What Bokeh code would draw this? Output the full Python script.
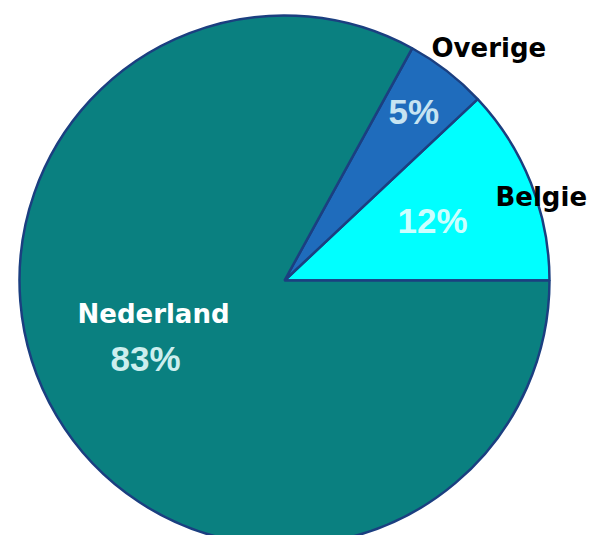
import math
from bokeh.plotting import figure
from bokeh.models import Range1d, ColumnDataSource
from bokeh.core.properties import value
from bokeh.embed import file_html
from bokeh.resources import INLINE

# Data
categories = ["Belgie", "Overige", "Nederland"]
shares = [12, 5, 83]
pct_labels = ["12%", "5%", "83%"]
colors = ["#00ffff", "#1f6cbc", "#0a8080"]

W, H = 598, 535
p = figure(width=W, height=H, output_backend="svg", toolbar_location=None,
           x_range=Range1d(0, W), y_range=Range1d(0, H), min_border=0)
p.axis.visible = False
p.grid.visible = False
p.outline_line_color = None
p.background_fill_color = "white"
p.border_fill_color = "white"

# screen coords (sx, sy) -> data: x = sx, y = H - sy
cx, cy, r = 284, H - 280, 265
total = sum(shares)
starts, ends = [], []
acc = 0.0
for s in shares:
    starts.append(2 * math.pi * acc / total)
    acc += s
    ends.append(2 * math.pi * acc / total)

src = ColumnDataSource(dict(start=starts, end=ends, color=colors, cat=categories))
p.wedge(x=cx, y=cy, radius=r, start_angle="start", end_angle="end",
        fill_color="color", line_color="#1b3f80", line_width=2.5, source=src)

def T(x, y, t, size, color, font):
    p.text(x=[x], y=[H - y], text=[t], text_font=value(font), text_font_size=size,
           text_font_style="bold", text_color=color, text_align="left",
           text_baseline="alphabetic")

# category names
T(431, 47, "Overige", "26px", "black", "DejaVu Sans")
T(495, 196, "Belgie", "26px", "black", "DejaVu Sans")
T(77, 313, "Nederland", "26px", "white", "DejaVu Sans")

# percentages
T(388, 111, pct_labels[1], "35px", "#c6e4f2", "Liberation Sans")
T(397, 220, pct_labels[0], "35px", "#ccffff", "Liberation Sans")
T(110, 358, pct_labels[2], "35px", "#cdeeee", "Liberation Sans")

open("out.html", "w").write(file_html(p, INLINE))
